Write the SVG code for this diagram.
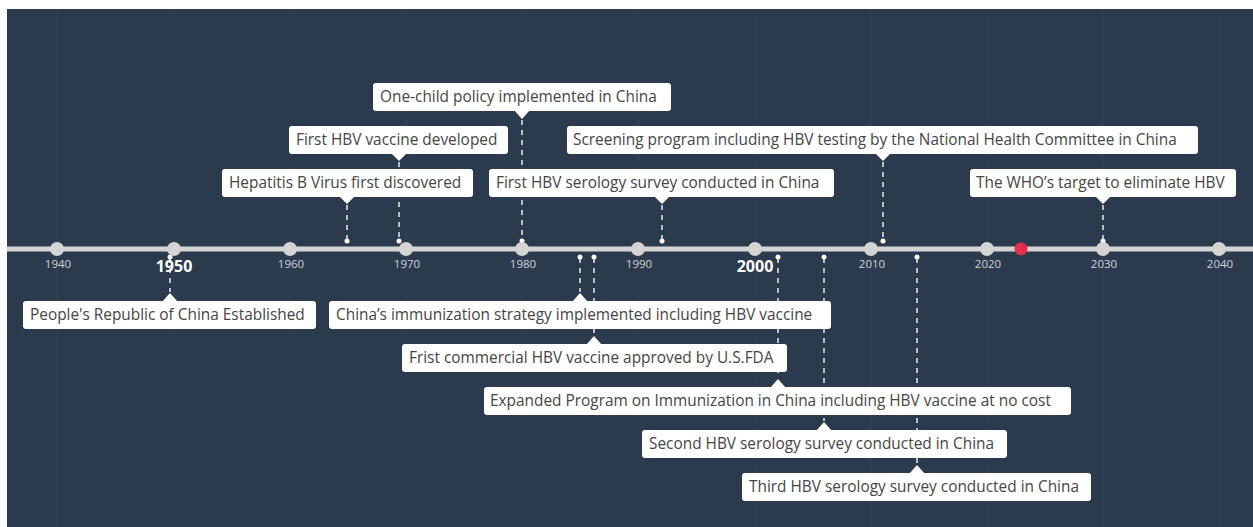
<svg xmlns="http://www.w3.org/2000/svg" width="1253" height="527" viewBox="0 0 1253 527">
<style>
.bg{fill:#2c3a4e}
.grid{stroke:#34435a;stroke-width:1}
.axis{stroke:#d4d4d4;stroke-width:5}
.tick{fill:#d4d4d4}
.yr{font-family:"Open Sans","Liberation Sans",sans-serif;font-size:11.5px;fill:#d0d3d8;text-anchor:middle}
.yrb{font-family:"Open Sans","Liberation Sans",sans-serif;font-size:16px;font-weight:bold;fill:#ffffff;text-anchor:middle}
.conn{stroke:#b9bec5;stroke-width:2;stroke-dasharray:5 5;fill:none}
.dot{fill:#ffffff}
.box{fill:#ffffff}
.lbl{font-family:"Open Sans","Liberation Sans",sans-serif;font-size:15.4px;fill:#454545}
</style>
<rect x="0" y="0" width="1253" height="527" fill="#ffffff"/>
<rect class="bg" x="7" y="9" width="1246" height="518"/>
<g id="grid">
<line class="grid" x1="57" y1="9" x2="57" y2="527"/>
<line class="grid" x1="174" y1="9" x2="174" y2="527"/>
<line class="grid" x1="290" y1="9" x2="290" y2="527"/>
<line class="grid" x1="406" y1="9" x2="406" y2="527"/>
<line class="grid" x1="522" y1="9" x2="522" y2="527"/>
<line class="grid" x1="638" y1="9" x2="638" y2="527"/>
<line class="grid" x1="755" y1="9" x2="755" y2="527"/>
<line class="grid" x1="871" y1="9" x2="871" y2="527"/>
<line class="grid" x1="987" y1="9" x2="987" y2="527"/>
<line class="grid" x1="1103" y1="9" x2="1103" y2="527"/>
<line class="grid" x1="1219" y1="9" x2="1219" y2="527"/>
</g>
<g id="connectors">
<line class="conn" x1="522" y1="120" x2="522" y2="240"/>
<line class="conn" x1="399" y1="162" x2="399" y2="240"/>
<line class="conn" x1="347" y1="205" x2="347" y2="240"/>
<line class="conn" x1="662" y1="205" x2="662" y2="240"/>
<line class="conn" x1="883" y1="162" x2="883" y2="240"/>
<line class="conn" x1="1103" y1="205" x2="1103" y2="240"/>
<line class="conn" x1="170" y1="258" x2="170" y2="292"/>
<line class="conn" x1="580" y1="258" x2="580" y2="292"/>
<line class="conn" x1="594" y1="258" x2="594" y2="335"/>
<line class="conn" x1="778" y1="258" x2="778" y2="378"/>
<line class="conn" x1="824" y1="258" x2="824" y2="421"/>
<line class="conn" x1="917" y1="258" x2="917" y2="464"/>
<circle class="dot" cx="522" cy="241" r="2.5"/>
<circle class="dot" cx="399" cy="241" r="2.5"/>
<circle class="dot" cx="347" cy="241" r="2.5"/>
<circle class="dot" cx="662" cy="241" r="2.5"/>
<circle class="dot" cx="883" cy="241" r="2.5"/>
<circle class="dot" cx="1103" cy="241" r="2.5"/>
<circle class="dot" cx="170" cy="257" r="2.5"/>
<circle class="dot" cx="580" cy="257" r="2.5"/>
<circle class="dot" cx="594" cy="257" r="2.5"/>
<circle class="dot" cx="778" cy="257" r="2.5"/>
<circle class="dot" cx="824" cy="257" r="2.5"/>
<circle class="dot" cx="917" cy="257" r="2.5"/>
</g>
<g id="axis">
<line class="axis" x1="7" y1="249" x2="1253" y2="249"/>
<circle class="tick" cx="57" cy="249" r="7"/>
<circle class="tick" cx="174" cy="249" r="7"/>
<circle class="tick" cx="290" cy="249" r="7"/>
<circle class="tick" cx="406" cy="249" r="7"/>
<circle class="tick" cx="522" cy="249" r="7"/>
<circle class="tick" cx="638" cy="249" r="7"/>
<circle class="tick" cx="755" cy="249" r="7"/>
<circle class="tick" cx="871" cy="249" r="7"/>
<circle class="tick" cx="987" cy="249" r="7"/>
<circle class="tick" cx="1103" cy="249" r="7"/>
<circle class="tick" cx="1219" cy="249" r="7"/>
<circle cx="1021" cy="249" r="6.5" fill="#e2304a"/>
<text class="yr" x="58" y="268">1940</text>
<text class="yrb" x="174" y="272">1950</text>
<text class="yr" x="291" y="268">1960</text>
<text class="yr" x="407" y="268">1970</text>
<text class="yr" x="523" y="268">1980</text>
<text class="yr" x="639" y="268">1990</text>
<text class="yrb" x="755" y="272">2000</text>
<text class="yr" x="872" y="268">2010</text>
<text class="yr" x="988" y="268">2020</text>
<text class="yr" x="1104" y="268">2030</text>
<text class="yr" x="1220" y="268">2040</text>
</g>
<g id="one-child">
<rect class="box" x="373" y="83" width="298" height="28" rx="3"/>
<path class="box" d="M514 110 L522 119 L530 110 Z"/>
<text class="lbl" x="380" y="102">One-child policy implemented in China</text>
</g>
<g id="first-vaccine">
<rect class="box" x="289" y="126" width="219" height="28" rx="3"/>
<path class="box" d="M391 153 L399 161 L407 153 Z"/>
<text class="lbl" x="296" y="145">First HBV vaccine developed</text>
</g>
<g id="hbv-discovered">
<rect class="box" x="222" y="169" width="251" height="28" rx="3"/>
<path class="box" d="M339 196 L347 204 L355 196 Z"/>
<text class="lbl" x="229" y="188">Hepatitis B Virus first discovered</text>
</g>
<g id="serology-1">
<rect class="box" x="489" y="169" width="345" height="28" rx="3"/>
<path class="box" d="M654 196 L662 204 L670 196 Z"/>
<text class="lbl" x="496" y="188">First HBV serology survey conducted in China</text>
</g>
<g id="screening">
<rect class="box" x="567" y="126" width="631" height="28" rx="3"/>
<path class="box" d="M875 153 L883 161 L891 153 Z"/>
<text class="lbl" x="573" y="145">Screening program including HBV testing by the National Health Committee in China</text>
</g>
<g id="who-target">
<rect class="box" x="970" y="169" width="266" height="28" rx="3"/>
<path class="box" d="M1095 196 L1103 204 L1111 196 Z"/>
<text class="lbl" x="976" y="188">The WHO’s target to eliminate HBV</text>
</g>
<g id="prc">
<rect class="box" x="23" y="301" width="293" height="28" rx="3"/>
<path class="box" d="M162 302 L170 293 L178 302 Z"/>
<text class="lbl" x="30" y="320">People's Republic of China Established</text>
</g>
<g id="immunization-strategy">
<rect class="box" x="329" y="301" width="502" height="28" rx="3"/>
<path class="box" d="M572 302 L580 293 L588 302 Z"/>
<text class="lbl" x="336" y="320">China’s immunization strategy implemented including HBV vaccine</text>
</g>
<g id="fda">
<rect class="box" x="402" y="344" width="385" height="28" rx="3"/>
<path class="box" d="M586 345 L594 336 L602 345 Z"/>
<text class="lbl" x="409" y="363">Frist commercial HBV vaccine approved by U.S.FDA</text>
</g>
<g id="epi">
<rect class="box" x="484" y="387" width="587" height="28" rx="3"/>
<path class="box" d="M770 388 L778 379 L786 388 Z"/>
<text class="lbl" x="490" y="406">Expanded Program on Immunization in China including HBV vaccine at no cost</text>
</g>
<g id="serology-2">
<rect class="box" x="642" y="430" width="365" height="28" rx="3"/>
<path class="box" d="M816 431 L824 422 L832 431 Z"/>
<text class="lbl" x="649" y="449">Second HBV serology survey conducted in China</text>
</g>
<g id="serology-3">
<rect class="box" x="742" y="473" width="349" height="28" rx="3"/>
<path class="box" d="M909 474 L917 465 L925 474 Z"/>
<text class="lbl" x="749" y="492">Third HBV serology survey conducted in China</text>
</g>
</svg>
